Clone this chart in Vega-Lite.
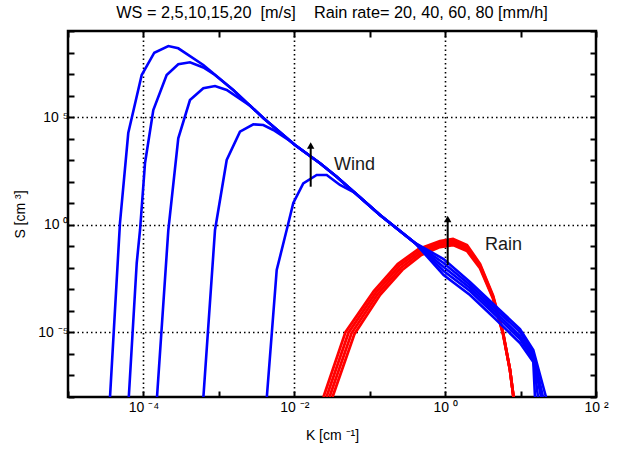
{
  "$schema": "https://vega.github.io/schema/vega-lite/v6.json",
  "width": 528,
  "height": 366,
  "autosize": "none",
  "padding": {"left": 68, "top": 31, "right": 27, "bottom": 54},
  "background": "white",
  "title": {
    "text": "WS = 2,5,10,15,20\u00a0\u00a0[m/s]\u00a0\u00a0\u00a0\u00a0Rain rate= 20, 40, 60, 80 [mm/h]",
    "font": "Liberation Sans",
    "fontSize": 16.3,
    "fontWeight": "normal",
    "color": "black",
    "baseline": "alphabetic",
    "offset": 4,
    "dy": 14,
    "anchor": "middle",
    "frame": "group"
  },
  "datasets": {
    "curves": [
      {"set":"wind","curve":"WS20","i":0,"K":3.606e-5,"S":1e-8},
      {"set":"wind","curve":"WS20","i":1,"K":4.887e-5,"S":1.208},
      {"set":"wind","curve":"WS20","i":2,"K":6.295e-5,"S":1.828e4},
      {"set":"wind","curve":"WS20","i":3,"K":9.484e-5,"S":9.036e6},
      {"set":"wind","curve":"WS20","i":4,"K":1.393e-4,"S":9.817e7},
      {"set":"wind","curve":"WS20","i":5,"K":2.138e-4,"S":2.009e8},
      {"set":"wind","curve":"WS20","i":6,"K":2.897e-4,"S":1.570e8},
      {"set":"wind","curve":"WS20","i":7,"K":6.223e-4,"S":2.636e7},
      {"set":"wind","curve":"WS20","i":8,"K":1.552e-3,"S":1.820e6},
      {"set":"wind","curve":"WS20","i":9,"K":3.882e-3,"S":9.099e4},
      {"set":"wind","curve":"WS20","i":10,"K":1.021e-2,"S":5070},
      {"set":"wind","curve":"WS20","i":11,"K":2.193e-2,"S":716.1},
      {"set":"wind","curve":"WS20","i":12,"K":3.648e-2,"S":171.0},
      {"set":"wind","curve":"WS20","i":13,"K":0.1368,"S":2.844},
      {"set":"wind","curve":"WS20","i":14,"K":0.3981,"S":0.1422},
      {"set":"wind","curve":"WS20","i":15,"K":0.9539,"S":2.570e-2},
      {"set":"wind","curve":"WS20","i":16,"K":2.135,"S":2.198e-3},
      {"set":"wind","curve":"WS20","i":17,"K":4.349,"S":2.089e-4},
      {"set":"wind","curve":"WS20","i":18,"K":9.826,"S":1.442e-5},
      {"set":"wind","curve":"WS20","i":19,"K":14.75,"S":1.524e-6},
      {"set":"wind","curve":"WS20","i":20,"K":21.74,"S":1e-8},

      {"set":"wind","curve":"WS15","i":0,"K":6.397e-5,"S":1e-8},
      {"set":"wind","curve":"WS15","i":1,"K":8.147e-5,"S":1.675e-2},
      {"set":"wind","curve":"WS15","i":2,"K":9.016e-5,"S":0.5715},
      {"set":"wind","curve":"WS15","i":3,"K":1.050e-4,"S":739.6},
      {"set":"wind","curve":"WS15","i":4,"K":1.352e-4,"S":2.143e5},
      {"set":"wind","curve":"WS15","i":5,"K":2.032e-4,"S":9.036e6},
      {"set":"wind","curve":"WS15","i":6,"K":2.897e-4,"S":2.838e7},
      {"set":"wind","curve":"WS15","i":7,"K":4.140e-4,"S":3.516e7},
      {"set":"wind","curve":"WS15","i":8,"K":6.223e-4,"S":2.018e7},
      {"set":"wind","curve":"WS15","i":9,"K":8.892e-4,"S":9.036e6},
      {"set":"wind","curve":"WS15","i":10,"K":1.552e-3,"S":1.820e6},
      {"set":"wind","curve":"WS15","i":11,"K":3.882e-3,"S":9.099e4},
      {"set":"wind","curve":"WS15","i":12,"K":1.021e-2,"S":5070},
      {"set":"wind","curve":"WS15","i":13,"K":2.193e-2,"S":716.1},
      {"set":"wind","curve":"WS15","i":14,"K":3.648e-2,"S":171.0},
      {"set":"wind","curve":"WS15","i":15,"K":0.1368,"S":2.844},
      {"set":"wind","curve":"WS15","i":16,"K":0.3981,"S":0.1422},
      {"set":"wind","curve":"WS15","i":17,"K":0.9539,"S":1.675e-2},
      {"set":"wind","curve":"WS15","i":18,"K":2.135,"S":1.596e-3},
      {"set":"wind","curve":"WS15","i":19,"K":4.349,"S":1.517e-4},
      {"set":"wind","curve":"WS15","i":20,"K":9.826,"S":1.045e-5},
      {"set":"wind","curve":"WS15","i":21,"K":14.75,"S":1.104e-6},
      {"set":"wind","curve":"WS15","i":22,"K":19.83,"S":1e-8},

      {"set":"wind","curve":"WS10","i":0,"K":1.514e-4,"S":1e-8},
      {"set":"wind","curve":"WS10","i":1,"K":2.138e-4,"S":0.5715},
      {"set":"wind","curve":"WS10","i":2,"K":2.897e-4,"S":1.038e4},
      {"set":"wind","curve":"WS10","i":3,"K":4.140e-4,"S":6.237e5},
      {"set":"wind","curve":"WS10","i":4,"K":6.223e-4,"S":2.183e6},
      {"set":"wind","curve":"WS10","i":5,"K":8.892e-4,"S":2.786e6},
      {"set":"wind","curve":"WS10","i":6,"K":1.271e-3,"S":1.820e6},
      {"set":"wind","curve":"WS10","i":7,"K":2.588e-3,"S":3.428e5},
      {"set":"wind","curve":"WS10","i":8,"K":3.882e-3,"S":9.099e4},
      {"set":"wind","curve":"WS10","i":9,"K":1.021e-2,"S":5070},
      {"set":"wind","curve":"WS10","i":10,"K":2.193e-2,"S":716.1},
      {"set":"wind","curve":"WS10","i":11,"K":3.648e-2,"S":171.0},
      {"set":"wind","curve":"WS10","i":12,"K":0.1368,"S":2.844},
      {"set":"wind","curve":"WS10","i":13,"K":0.3981,"S":0.1422},
      {"set":"wind","curve":"WS10","i":14,"K":0.9539,"S":1.094e-2},
      {"set":"wind","curve":"WS10","i":15,"K":2.135,"S":1.156e-3},
      {"set":"wind","curve":"WS10","i":16,"K":4.349,"S":1.099e-4},
      {"set":"wind","curve":"WS10","i":17,"K":9.826,"S":6.823e-6},
      {"set":"wind","curve":"WS10","i":18,"K":14.75,"S":8.017e-7},
      {"set":"wind","curve":"WS10","i":19,"K":18.66,"S":1e-8},

      {"set":"wind","curve":"WS5","i":0,"K":6.237e-4,"S":1e-8},
      {"set":"wind","curve":"WS5","i":1,"K":8.892e-4,"S":0.5715},
      {"set":"wind","curve":"WS5","i":2,"K":1.271e-3,"S":1019},
      {"set":"wind","curve":"WS5","i":3,"K":1.905e-3,"S":2.104e4},
      {"set":"wind","curve":"WS5","i":4,"K":2.864e-3,"S":4.645e4},
      {"set":"wind","curve":"WS5","i":5,"K":3.882e-3,"S":4.305e4},
      {"set":"wind","curve":"WS5","i":6,"K":5.272e-3,"S":2.523e4},
      {"set":"wind","curve":"WS5","i":7,"K":8.770e-3,"S":7780},
      {"set":"wind","curve":"WS5","i":8,"K":1.021e-2,"S":5070},
      {"set":"wind","curve":"WS5","i":9,"K":2.193e-2,"S":716.1},
      {"set":"wind","curve":"WS5","i":10,"K":3.648e-2,"S":171.0},
      {"set":"wind","curve":"WS5","i":11,"K":0.1368,"S":2.844},
      {"set":"wind","curve":"WS5","i":12,"K":0.3981,"S":0.1422},
      {"set":"wind","curve":"WS5","i":13,"K":0.9539,"S":7.129e-3},
      {"set":"wind","curve":"WS5","i":14,"K":2.135,"S":8.395e-4},
      {"set":"wind","curve":"WS5","i":15,"K":4.349,"S":7.980e-5},
      {"set":"wind","curve":"WS5","i":16,"K":9.826,"S":4.943e-6},
      {"set":"wind","curve":"WS5","i":17,"K":14.75,"S":5.821e-7},
      {"set":"wind","curve":"WS5","i":18,"K":17.02,"S":1e-8},

      {"set":"wind","curve":"WS2","i":0,"K":4.325e-3,"S":1e-8},
      {"set":"wind","curve":"WS2","i":1,"K":5.848e-3,"S":7.925e-3},
      {"set":"wind","curve":"WS2","i":2,"K":7.925e-3,"S":0.5715},
      {"set":"wind","curve":"WS2","i":3,"K":9.705e-3,"S":10.26},
      {"set":"wind","curve":"WS2","i":4,"K":1.315e-2,"S":84.33},
      {"set":"wind","curve":"WS2","i":5,"K":1.982e-2,"S":205.1},
      {"set":"wind","curve":"WS2","i":6,"K":2.692e-2,"S":205.1},
      {"set":"wind","curve":"WS2","i":7,"K":4.036e-2,"S":70.31},
      {"set":"wind","curve":"WS2","i":8,"K":6.383e-2,"S":30.2},
      {"set":"wind","curve":"WS2","i":9,"K":0.1368,"S":2.844},
      {"set":"wind","curve":"WS2","i":10,"K":0.3981,"S":0.1422},
      {"set":"wind","curve":"WS2","i":11,"K":0.9539,"S":4.645e-3},
      {"set":"wind","curve":"WS2","i":12,"K":2.135,"S":5.470e-4},
      {"set":"wind","curve":"WS2","i":13,"K":4.349,"S":5.200e-5},
      {"set":"wind","curve":"WS2","i":14,"K":9.826,"S":3.221e-6},
      {"set":"wind","curve":"WS2","i":15,"K":14.75,"S":4.227e-7},
      {"set":"wind","curve":"WS2","i":16,"K":15.53,"S":1e-8},

      {"set":"rain","curve":"R80","i":0,"K":2.439e-2,"S":1e-8},
      {"set":"rain","curve":"R80","i":1,"K":4.775e-2,"S":1.035e-5},
      {"set":"rain","curve":"R80","i":2,"K":0.1134,"S":8.222e-4},
      {"set":"rain","curve":"R80","i":3,"K":0.2353,"S":1.507e-2},
      {"set":"rain","curve":"R80","i":4,"K":0.4455,"S":7.499e-2},
      {"set":"rain","curve":"R80","i":5,"K":0.8546,"S":0.1762},
      {"set":"rain","curve":"R80","i":6,"K":1.271,"S":0.2183},
      {"set":"rain","curve":"R80","i":7,"K":1.949,"S":0.1148},
      {"set":"rain","curve":"R80","i":8,"K":2.897,"S":1.524e-2},
      {"set":"rain","curve":"R80","i":9,"K":4.309,"S":5.188e-4},
      {"set":"rain","curve":"R80","i":10,"K":5.848,"S":1.035e-5},
      {"set":"rain","curve":"R80","i":11,"K":7.241,"S":1.799e-7},
      {"set":"rain","curve":"R80","i":12,"K":8.057,"S":1e-8},

      {"set":"rain","curve":"R60","i":0,"K":2.673e-2,"S":1e-8},
      {"set":"rain","curve":"R60","i":1,"K":5.233e-2,"S":9.705e-6},
      {"set":"rain","curve":"R60","i":2,"K":0.1209,"S":7.228e-4},
      {"set":"rain","curve":"R60","i":3,"K":0.2463,"S":1.216e-2},
      {"set":"rain","curve":"R60","i":4,"K":0.4576,"S":6.053e-2},
      {"set":"rain","curve":"R60","i":5,"K":0.8546,"S":0.1422},
      {"set":"rain","curve":"R60","i":6,"K":1.271,"S":0.1762},
      {"set":"rain","curve":"R60","i":7,"K":1.949,"S":9.268e-2},
      {"set":"rain","curve":"R60","i":8,"K":2.897,"S":1.309e-2},
      {"set":"rain","curve":"R60","i":9,"K":4.309,"S":4.656e-4},
      {"set":"rain","curve":"R60","i":10,"K":5.848,"S":9.705e-6},
      {"set":"rain","curve":"R60","i":11,"K":7.241,"S":1.799e-7},
      {"set":"rain","curve":"R60","i":12,"K":8.057,"S":1e-8},

      {"set":"rain","curve":"R40","i":0,"K":2.929e-2,"S":1e-8},
      {"set":"rain","curve":"R40","i":1,"K":5.735e-2,"S":9.099e-6},
      {"set":"rain","curve":"R40","i":2,"K":0.1289,"S":6.353e-4},
      {"set":"rain","curve":"R40","i":3,"K":0.2578,"S":9.817e-3},
      {"set":"rain","curve":"R40","i":4,"K":0.4705,"S":4.887e-2},
      {"set":"rain","curve":"R40","i":5,"K":0.8546,"S":0.1148},
      {"set":"rain","curve":"R40","i":6,"K":1.271,"S":0.1422},
      {"set":"rain","curve":"R40","i":7,"K":1.949,"S":7.499e-2},
      {"set":"rain","curve":"R40","i":8,"K":2.897,"S":1.127e-2},
      {"set":"rain","curve":"R40","i":9,"K":4.309,"S":4.188e-4},
      {"set":"rain","curve":"R40","i":10,"K":5.848,"S":9.099e-6},
      {"set":"rain","curve":"R40","i":11,"K":7.241,"S":1.799e-7},
      {"set":"rain","curve":"R40","i":12,"K":8.057,"S":1e-8},

      {"set":"rain","curve":"R20","i":0,"K":3.210e-2,"S":1e-8},
      {"set":"rain","curve":"R20","i":1,"K":6.284e-2,"S":8.531e-6},
      {"set":"rain","curve":"R20","i":2,"K":0.1375,"S":5.585e-4},
      {"set":"rain","curve":"R20","i":3,"K":0.2699,"S":7.925e-3},
      {"set":"rain","curve":"R20","i":4,"K":0.4835,"S":3.945e-2},
      {"set":"rain","curve":"R20","i":5,"K":0.8546,"S":9.268e-2},
      {"set":"rain","curve":"R20","i":6,"K":1.271,"S":0.1148},
      {"set":"rain","curve":"R20","i":7,"K":1.949,"S":6.053e-2},
      {"set":"rain","curve":"R20","i":8,"K":2.897,"S":9.705e-3},
      {"set":"rain","curve":"R20","i":9,"K":4.309,"S":3.758e-4},
      {"set":"rain","curve":"R20","i":10,"K":5.848,"S":8.531e-6},
      {"set":"rain","curve":"R20","i":11,"K":7.241,"S":1.799e-7},
      {"set":"rain","curve":"R20","i":12,"K":8.057,"S":1e-8}
    ],
    "arrows": [
      {"name":"Wind","K":1.650e-2,"S":58.6,"S2":4809},
      {"name":"Rain","K":1.081,"S":1.352e-2,"S2":1.854}
    ],
    "labels": [
      {"text":"Wind","K":3.36e-2,"S":350},
      {"text":"Rain","K":3.376,"S":6.73e-2}
    ]
  },
  "layer": [
    {
      "data": {"name": "curves"},
      "transform": [{"filter": "datum.set == 'rain'"}],
      "mark": {"type": "line", "color": "#ff0000", "strokeWidth": 2.8, "clip": true},
      "encoding": {
        "x": {
          "field": "K", "type": "quantitative",
          "scale": {"type": "log", "domain": [1e-5, 100], "nice": false},
          "axis": {
            "orient": "bottom",
            "values": [1e-5, 1e-4, 1e-3, 1e-2, 1e-1, 1, 10, 100],
            "domain": false,
            "tickSize": -6, "tickColor": "black", "tickWidth": 2,
            "grid": true, "gridColor": "black", "gridDash": [1.5, 3], "gridWidth": 1.6,
            "gridOpacity": {"condition": {"test": "round(log(datum.value)/LN10) == -4 || round(log(datum.value)/LN10) == -2 || round(log(datum.value)/LN10) == 0", "value": 1}, "value": 0},
            "labelExpr": "round(log(datum.value)/LN10) == -4 ? '10 ⁻⁴' : round(log(datum.value)/LN10) == -2 ? '10 ⁻²' : round(log(datum.value)/LN10) == 0 ? '10 ⁰' : round(log(datum.value)/LN10) == 2 ? '10 ²' : ''",
            "labelFont": "Liberation Sans", "labelFontSize": 14, "labelColor": "black", "labelPadding": 9,
            "labelFlush": false, "labelOverlap": false,
            "title": "K [cm ⁻¹]", "titleFont": "Liberation Sans", "titleFontSize": 14, "titleFontWeight": "normal", "titleColor": "black", "titlePadding": 14
          }
        },
        "y": {
          "field": "S", "type": "quantitative",
          "scale": {"type": "log", "domain": [1e-8, 1e9], "nice": false},
          "axis": {
            "orient": "left",
            "values": [1e-8, 1e-7, 1e-6, 1e-5, 1e-4, 1e-3, 1e-2, 1e-1, 1, 10, 100, 1000, 1e4, 1e5, 1e6, 1e7, 1e8, 1e9],
            "domain": false,
            "tickSize": -6, "tickColor": "black", "tickWidth": 2,
            "grid": true, "gridColor": "black", "gridDash": [1.5, 3], "gridWidth": 1.6,
            "gridOpacity": {"condition": {"test": "round(log(datum.value)/LN10) == -5 || round(log(datum.value)/LN10) == 0 || round(log(datum.value)/LN10) == 5", "value": 1}, "value": 0},
            "labelExpr": "round(log(datum.value)/LN10) == -5 ? '10 ⁻⁵' : round(log(datum.value)/LN10) == 0 ? '10 ⁰' : round(log(datum.value)/LN10) == 5 ? '10 ⁵' : ''",
            "labelFont": "Liberation Sans", "labelFontSize": 14, "labelColor": "black", "labelPadding": 6,
            "labelFlush": false, "labelOverlap": false,
            "title": "S [cm ³]", "titleFont": "Liberation Sans", "titleFontSize": 14, "titleFontWeight": "normal", "titleColor": "black", "titlePadding": 10
          }
        },
        "detail": {"field": "curve"},
        "order": {"field": "i", "type": "quantitative"}
      }
    },
    {
      "data": {"name": "curves"},
      "transform": [{"filter": "datum.set == 'wind'"}],
      "mark": {"type": "line", "color": "#0000ff", "strokeWidth": 2.6, "clip": true},
      "encoding": {
        "x": {"field": "K", "type": "quantitative", "scale": {"type": "log", "domain": [1e-5, 100], "nice": false}, "axis": null},
        "y": {"field": "S", "type": "quantitative", "scale": {"type": "log", "domain": [1e-8, 1e9], "nice": false}, "axis": null},
        "detail": {"field": "curve"},
        "order": {"field": "i", "type": "quantitative"}
      }
    },
    {
      "data": {"name": "arrows"},
      "mark": {"type": "rule", "color": "black", "strokeWidth": 2},
      "encoding": {
        "x": {"field": "K", "type": "quantitative", "axis": null},
        "y": {"field": "S", "type": "quantitative", "axis": null},
        "y2": {"field": "S2"}
      }
    },
    {
      "data": {"name": "arrows"},
      "mark": {"type": "point", "shape": "triangle-up", "filled": true, "color": "black", "size": 55, "opacity": 1},
      "encoding": {
        "x": {"field": "K", "type": "quantitative", "axis": null},
        "y": {"field": "S2", "type": "quantitative", "axis": null}
      }
    },
    {
      "data": {"name": "labels"},
      "mark": {"type": "text", "font": "Liberation Sans", "fontSize": 18, "color": "#1a1a1a", "align": "left", "baseline": "alphabetic"},
      "encoding": {
        "x": {
          "field": "K", "type": "quantitative",
          "axis": {
            "orient": "top",
            "values": [1e-5, 1e-4, 1e-3, 1e-2, 1e-1, 1, 10, 100],
            "domain": false, "labels": false, "grid": false, "title": null,
            "tickSize": -6, "tickColor": "black", "tickWidth": 2
          }
        },
        "y": {
          "field": "S", "type": "quantitative",
          "axis": {
            "orient": "right",
            "values": [1e-8, 1e-7, 1e-6, 1e-5, 1e-4, 1e-3, 1e-2, 1e-1, 1, 10, 100, 1000, 1e4, 1e5, 1e6, 1e7, 1e8, 1e9],
            "domain": false, "labels": false, "grid": false, "title": null,
            "tickSize": -6, "tickColor": "black", "tickWidth": 2
          }
        },
        "text": {"field": "text"}
      }
    }
  ],
  "config": {
    "view": {"stroke": "black", "strokeWidth": 2.5},
    "font": "Liberation Sans"
  }
}
